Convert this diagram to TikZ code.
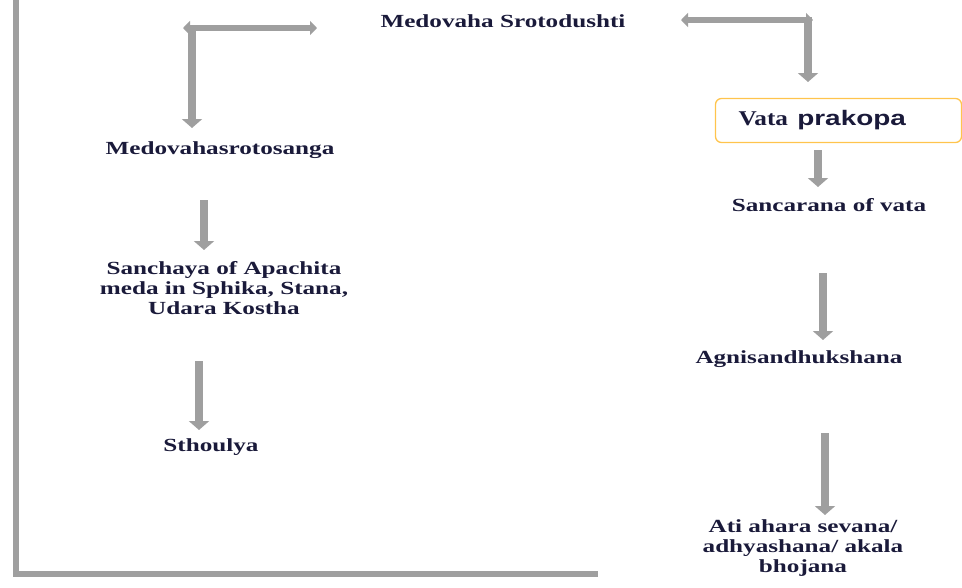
\documentclass[tikz,border=0pt]{standalone}
\usepackage{fontspec}
\setmainfont{Liberation Serif}[FakeStretch=1.36]
\newfontfamily\boxserif{Liberation Serif}[FakeStretch=1.2]
\newfontfamily\boxsans{Liberation Sans}[FakeStretch=1.33]
\usetikzlibrary{arrows.meta}
\definecolor{boxorange}{HTML}{FFC44D}
\definecolor{txtblue}{HTML}{1A1A3A}

\begin{document}
\begin{tikzpicture}[x=1pt,y=-1pt,
  lbl/.style={font=\fontsize{18.5}{20}\selectfont\bfseries, text=txtblue, align=center, inner sep=0pt},
  garrow/.style={draw=gray!75, line width=8pt, -{Triangle[width=20pt,length=9pt]}},
  gline/.style={draw=gray!75, line width=6pt},
  gtwo/.style={draw=gray!75, line width=6pt, {Triangle[width=14pt,length=7pt]}-{Triangle[width=14pt,length=7pt]}},
]
\useasboundingbox (0,0) rectangle (962,587);
% frame
\draw[gline] (16,0) -- (16,577);
\draw[gline] (13,574) -- (598,574);
% top
\node[lbl] (ttl) at (503,21) {Medovaha Srotodushti};
\draw[gtwo] (183,28) -- (317,28);
\draw[garrow] (192,25) -- (192,128);
\draw[gtwo] (681,20) -- (813,20);
\draw[garrow] (808,17) -- (808,82);
% left column
\node[lbl] (sanga) at (220,150) {Medovahasrotosanga};
\node[lbl] (sanchaya) at (224,288) {Sanchaya of Apachita\\meda in Sphika, Stana,\\Udara Kostha};
\node[lbl] (sthoulya) at (211,447) {Sthoulya};
\coordinate (s1) at (204,200);
\coordinate (e1) at (204,250);
\coordinate (s2) at (199,361);
\coordinate (e2) at (199,430);
\draw[garrow] (s1) -- (e1);
\draw[garrow] (s2) -- (e2);
% right column
\node[draw=boxorange, line width=1.3pt, rounded corners=6pt, minimum width=246pt,
  minimum height=44pt, text width=200pt, inner xsep=23pt, align=left, text=txtblue]
  (vata) at (838.5,120.5) {\fontsize{21}{24}\selectfont\bfseries\boxserif Vata\hspace{6pt} \boxsans prakopa};
\node[lbl] (sanc) at (829,205) {Sancarana of vata};
\node[lbl] (agni) at (799,359) {Agnisandhukshana};
\node[lbl] (ati) at (803,548) {Ati ahara sevana/\\adhyashana/ akala\\bhojana};
\coordinate (s3) at (818,150);
\coordinate (e3) at (818,187);
\coordinate (s4) at (823,273);
\coordinate (e4) at (823,340);
\coordinate (s5) at (825,433);
\coordinate (e5) at (825,515);
\draw[garrow] (s3) -- (e3);
\draw[garrow] (s4) -- (e4);
\draw[garrow] (s5) -- (e5);
\end{tikzpicture}
\end{document}
